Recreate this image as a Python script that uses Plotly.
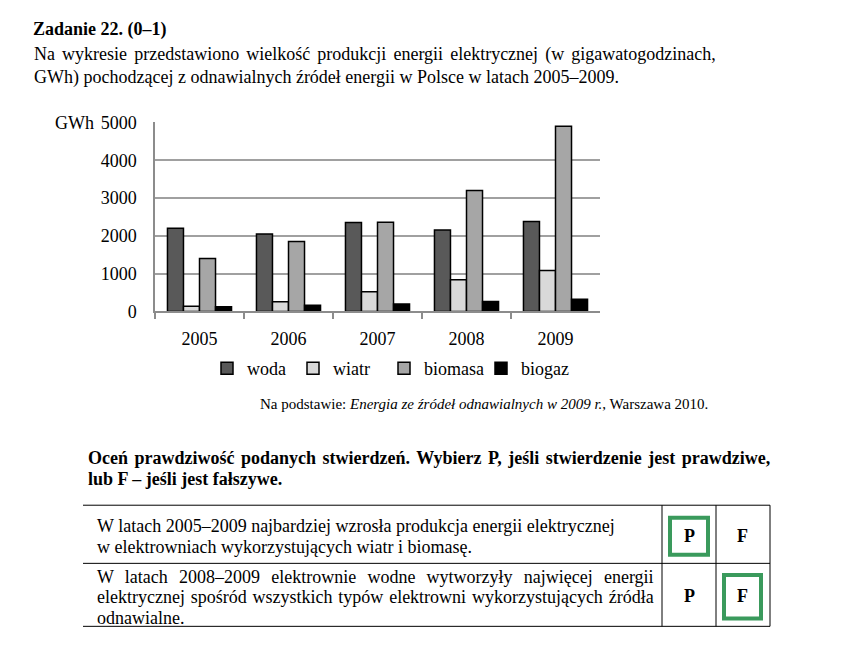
import plotly.graph_objects as go

W, H = 852, 647

years = ["2005", "2006", "2007", "2008", "2009"]
series_names = ["woda", "wiatr", "biomasa", "biogaz"]
woda = [2200, 2050, 2350, 2150, 2375]
wiatr = [135, 257, 520, 835, 1080]
biomasa = [1400, 1850, 2360, 3200, 4900]
biogaz = [125, 165, 195, 260, 320]
y_ticks = [0, 1000, 2000, 3000, 4000, 5000]

colors = ["#595959", "#d9d9d9", "#a6a6a6", "#000000"]


def X(px):
    return px / W


def Y(py):
    return 1 - py / H


SERIF = "Liberation Serif, Times New Roman, serif"

legend_ids = ["legend", "legend2", "legend3", "legend4"]
legend_text_x = [244, 330, 421, 518]  # where each legend label starts (px)

fig = go.Figure()
for name, vals, col, lid in zip(series_names, [woda, wiatr, biomasa, biogaz], colors, legend_ids):
    fig.add_trace(go.Bar(
        x=years, y=vals, name=name, legend=lid,
        marker=dict(color=col, line=dict(color="#000000", width=1.5)),
    ))

fig.update_layout(
    width=W, height=H,
    margin=dict(l=0, r=0, t=0, b=0),
    paper_bgcolor="white", plot_bgcolor="white",
    barmode="group", bargap=0.28, bargroupgap=0,
    font=dict(family=SERIF, size=18, color="#000000"),
    showlegend=True,
    xaxis=dict(
        domain=[X(155), X(600)], anchor="y",
        showline=True, linecolor="#8c8c8c", linewidth=1.5,
        ticks="outside", tickson="boundaries", ticklen=6, tickcolor="#8c8c8c",
        tickwidth=1.5, showgrid=False, tickfont=dict(family=SERIF, size=18),
        ticklabelstandoff=10,
    ),
    yaxis=dict(
        domain=[Y(311), Y(116)], range=[0, 5000], tickvals=y_ticks,
        showline=True, linecolor="#8c8c8c", linewidth=1.5,
        showgrid=True, gridcolor="#a0a0a0", gridwidth=1.5,
        ticks="", tickfont=dict(family=SERIF, size=18), ticklabelstandoff=13,
        zeroline=False,
    ),
)

for lid, tx in zip(legend_ids, legend_text_x):
    fig.update_layout({lid: dict(
        orientation="h", x=X(tx - 37), y=Y(370), xanchor="left", yanchor="middle",
        font=dict(family=SERIF, size=18), itemwidth=30,
        bgcolor="rgba(0,0,0,0)",
    )})

ann = []


def text(px, py, s, size=18, anchor="left", ws=None):
    if ws is not None:
        s = '<span style="word-spacing:%.1fpx">%s</span>' % (ws, s)
    ann.append(dict(x=X(px), y=Y(py), xref="paper", yref="paper", text=s,
                    showarrow=False, xanchor=anchor, yanchor="middle",
                    font=dict(family=SERIF, size=size, color="#000000")))


text(31, 20, "<b>Zadanie 22. (0–1)</b>")
text(32, 46, "Na wykresie przedstawiono wielkość produkcji energii elektrycznej (w gigawatogodzinach,", ws=2.6)
text(32, 70, "GWh) pochodzącej z odnawialnych źródeł energii w Polsce w latach 2005–2009.")
text(53, 117, "GWh")
text(258, 407, "Na podstawie: <i>Energia ze źródeł odnawialnych w 2009 r.</i>, Warszawa 2010.", size=15)
text(86, 462, "<b>Oceń prawdziwość podanych stwierdzeń. Wybierz P, jeśli stwierdzenie jest prawdziwe,</b>", ws=2.0)
text(86, 484, "<b>lub F – jeśli jest fałszywe.</b>")

text(95, 532, "W latach 2005–2009 najbardziej wzrosła produkcja energii elektrycznej")
text(95, 554, "w elektrowniach wykorzystujących wiatr i biomasę.")
text(95, 585, "W latach 2008–2009 elektrownie wodne wytworzyły najwięcej energii", ws=6.7)
text(95, 606, "elektrycznej spośród wszystkich typów elektrowni wykorzystujących źródła", ws=1.3)
text(95, 627, "odnawialne.")
text(689, 543, "<b>P</b>", anchor="center")
text(742, 543, "<b>F</b>", anchor="center")
text(689, 605, "<b>P</b>", anchor="center")
text(742, 605, "<b>F</b>", anchor="center")

fig.update_layout(annotations=ann)

shapes = []


def line(x0, y0, x1, y1, color="#000000", width=1):
    shapes.append(dict(type="line", xref="paper", yref="paper", x0=X(x0), y0=Y(y0),
                       x1=X(x1), y1=Y(y1), line=dict(color=color, width=width)))


# table
line(83, 511, 770, 511)
line(83, 571, 770, 571)
line(83, 636, 770, 636)
line(770, 511, 770, 636)
line(662, 511, 662, 636)
line(716, 511, 716, 636)
# green answer boxes
for x0, y0, x1, y1 in [(670, 524, 708, 562), (724, 583, 761, 628)]:
    shapes.append(dict(type="rect", xref="paper", yref="paper", x0=X(x0), y0=Y(y0),
                       x1=X(x1), y1=Y(y1), line=dict(color="#3a9a5c", width=4)))

fig.update_layout(shapes=shapes)

fig.write_html("out.html")
